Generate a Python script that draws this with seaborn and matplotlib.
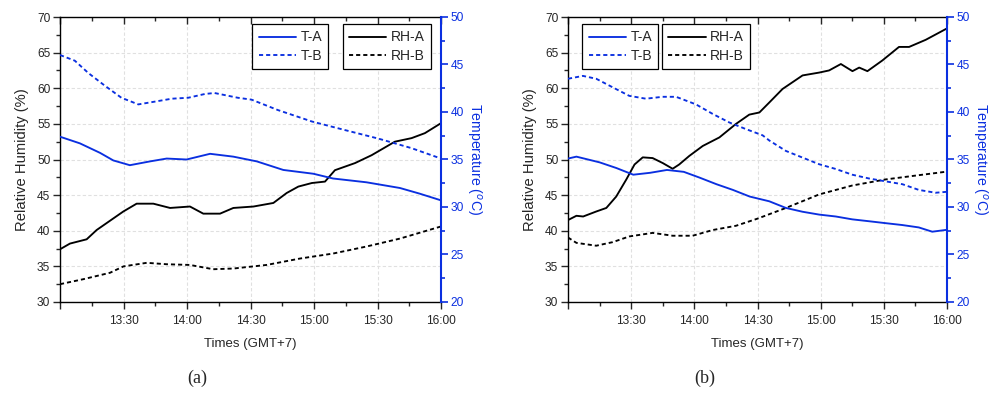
import numpy as np
import pandas as pd
import matplotlib
matplotlib.use("Agg")
import matplotlib.pyplot as plt
from matplotlib.lines import Line2D, TICKDOWN
from matplotlib.ticker import MultipleLocator
import seaborn as sns

# ---------------- data (minutes after 13:00) ----------------
time_ticks = [0, 30, 60, 90, 120, 150, 180]
time_labels = ["", "13:30", "14:00", "14:30", "15:00", "15:30", "16:00"]

# Panel (a)
a_TA_t = [0, 9.4, 18.9, 25.2, 33, 42.5, 50.4, 59.8, 70.9, 81.9, 93, 105.5, 119.7, 129, 144.8, 160.6, 170, 180]
a_TA_v = [37.4, 36.7, 35.7, 34.9, 34.4, 34.8, 35.1, 35.0, 35.6, 35.3, 34.8, 33.9, 33.5, 33.0, 32.6, 32.0, 31.4, 30.7]

a_TB_t = [0, 7, 13.4, 21, 29, 37, 45, 52.8, 60.6, 68.5, 73, 84, 90.5, 103, 119, 134.6, 150.4, 166, 180]
a_TB_v = [46.0, 45.4, 44.1, 42.8, 41.5, 40.8, 41.1, 41.4, 41.5, 41.9, 42.0, 41.5, 41.3, 40.2, 39.0, 38.1, 37.2, 36.2, 35.1]

a_RHA_t = [0, 4.7, 12.6, 17.3, 23.6, 29.9, 36.2, 44.1, 52, 61.4, 67.7, 75.6, 81.9, 91.4, 100.8, 107.1, 112.6, 119, 125.2, 129.9, 139.4, 147.2, 158.2, 166.1, 172.4, 180]
a_RHA_v = [37.4, 38.2, 38.8, 40.1, 41.4, 42.7, 43.8, 43.8, 43.2, 43.4, 42.4, 42.4, 43.2, 43.4, 43.9, 45.3, 46.2, 46.7, 46.9, 48.5, 49.5, 50.6, 52.5, 53.0, 53.7, 55.1]

a_RHB_t = [0, 11, 23.6, 30, 41, 50.4, 61.4, 72.4, 82, 97.6, 113.4, 129, 145, 160.6, 180]
a_RHB_v = [32.5, 33.2, 34.1, 35.0, 35.5, 35.3, 35.2, 34.6, 34.7, 35.2, 36.1, 36.8, 37.8, 38.9, 40.6]

# Panel (b)
b_TA_t = [0, 4, 15, 23, 31, 39, 47, 55, 62.4, 70.5, 78.3, 86.3, 95.6, 103.5, 111.4, 119.3, 127.2, 135, 143, 150.8, 158.8, 166.6, 173, 180]
b_TA_v = [35.1, 35.3, 34.7, 34.1, 33.4, 33.6, 33.9, 33.7, 33.1, 32.4, 31.8, 31.1, 30.6, 29.9, 29.5, 29.2, 29.0, 28.7, 28.5, 28.3, 28.1, 27.85, 27.4, 27.6]

b_TB_t = [0, 7.1, 13.4, 21.2, 29.1, 37, 44.9, 51.3, 60.8, 68.7, 76.6, 84.5, 92.4, 95.6, 103.5, 111.4, 119.3, 127.2, 135, 143, 150.8, 158.8, 166.6, 174.5, 180]
b_TB_v = [43.5, 43.8, 43.5, 42.6, 41.7, 41.4, 41.6, 41.6, 40.8, 39.8, 38.9, 38.2, 37.55, 37.0, 35.9, 35.2, 34.5, 34.0, 33.4, 33.0, 32.7, 32.4, 31.8, 31.5, 31.6]

b_RHA_t = [0, 4, 7.2, 13.4, 18.2, 22.9, 27.7, 31.6, 35.5, 40.2, 45, 49.7, 52.8, 57.6, 64, 71.9, 79.8, 86.1, 90.9, 95.6, 101.9, 111.4, 119.3, 124, 129.6, 135.1, 138.3, 142.2, 149.3, 157.2, 162, 169.9, 180]
b_RHA_v = [41.5, 42.1, 42.0, 42.7, 43.2, 44.8, 47.2, 49.3, 50.3, 50.2, 49.5, 48.7, 49.3, 50.5, 51.9, 53.1, 55.0, 56.3, 56.6, 58.0, 59.9, 61.8, 62.2, 62.5, 63.4, 62.4, 62.9, 62.4, 63.9, 65.8, 65.8, 66.8, 68.4]

b_RHB_t = [0, 4, 13.4, 21.2, 29.1, 40.2, 49.7, 59.2, 68.7, 79.8, 90, 103.5, 119.3, 135, 150.8, 166.6, 180]
b_RHB_v = [39.05, 38.3, 37.9, 38.4, 39.2, 39.7, 39.3, 39.3, 40.1, 40.7, 41.7, 43.2, 45.1, 46.35, 47.2, 47.8, 48.3]

panels = [
    dict(TA=(a_TA_t, a_TA_v), TB=(a_TB_t, a_TB_v), RHA=(a_RHA_t, a_RHA_v), RHB=(a_RHB_t, a_RHB_v),
         caption="(a)", cap_x=197/997, rect=[60/997, 91/393, 381/997, 285/393],
         leg1=(0.505, 0.975), leg2=(0.742, 0.975)),
    dict(TA=(b_TA_t, b_TA_v), TB=(b_TB_t, b_TB_v), RHA=(b_RHA_t, b_RHA_v), RHB=(b_RHB_t, b_RHB_v),
         caption="(b)", cap_x=705/997, rect=[568/997, 91/393, 379/997, 285/393],
         leg1=(0.038, 0.975), leg2=(0.248, 0.975)),
]

# ---------------- style ----------------
sns.set_theme(style="white")
plt.rcParams["font.family"] = ["Liberation Sans", "DejaVu Sans"]
plt.rcParams["font.size"] = 9.5

BLUE = "#0a2fe0"
BLACK = "#000000"
LW = 1.35
DASH = (0, (2.2, 1.6))
TICK_FS = 8.6

fig = plt.figure(figsize=(9.97, 3.93), dpi=100)

for p in panels:
    ax = fig.add_axes(p["rect"])
    ax2 = ax.twinx()

    df_rha = pd.DataFrame({"t": p["RHA"][0], "v": p["RHA"][1]})
    df_rhb = pd.DataFrame({"t": p["RHB"][0], "v": p["RHB"][1]})
    df_ta = pd.DataFrame({"t": p["TA"][0], "v": p["TA"][1]})
    df_tb = pd.DataFrame({"t": p["TB"][0], "v": p["TB"][1]})

    sns.lineplot(data=df_rha, x="t", y="v", ax=ax, color=BLACK, lw=LW, estimator=None, sort=False)
    sns.lineplot(data=df_rhb, x="t", y="v", ax=ax, color=BLACK, lw=LW, estimator=None, sort=False)
    ax.lines[-1].set_linestyle(DASH)
    sns.lineplot(data=df_ta, x="t", y="v", ax=ax2, color=BLUE, lw=LW, estimator=None, sort=False)
    sns.lineplot(data=df_tb, x="t", y="v", ax=ax2, color=BLUE, lw=LW, estimator=None, sort=False)
    ax2.lines[-1].set_linestyle(DASH)

    ax.set_xlim(0, 180)
    ax.set_ylim(30, 70)
    ax2.set_ylim(20, 50)

    ax.set_xticks(time_ticks)
    ax.set_xticklabels(time_labels)
    ax.xaxis.set_minor_locator(MultipleLocator(15))
    ax.yaxis.set_major_locator(MultipleLocator(5))
    ax.yaxis.set_minor_locator(MultipleLocator(2.5))
    ax2.yaxis.set_major_locator(MultipleLocator(5))
    ax2.yaxis.set_minor_locator(MultipleLocator(2.5))

    ax.grid(True, which="major", color="#e0e0e0", lw=0.8, ls=(0, (3, 2)))
    ax2.grid(False)

    ax.tick_params(axis="x", which="both", direction="out", bottom=True, top=True, labelsize=TICK_FS, pad=4)
    ax.tick_params(axis="x", which="major", length=5, width=1)
    ax.tick_params(axis="x", which="minor", length=3, width=1)
    ax.tick_params(axis="y", which="both", direction="out", left=True, labelsize=TICK_FS, pad=2)
    ax.tick_params(axis="y", which="major", length=5, width=1)
    ax.tick_params(axis="y", which="minor", length=3, width=1)
    ax2.tick_params(axis="y", which="both", direction="out", right=True, colors=BLUE, labelsize=TICK_FS, pad=2)
    ax2.tick_params(axis="y", which="major", length=5, width=1.2)
    ax2.tick_params(axis="y", which="minor", length=3, width=1.2)

    # top ticks point inward
    for t in ax.xaxis.get_major_ticks():
        t.tick2line.set_marker(TICKDOWN)
        t.tick2line.set_markersize(5)
    for t in ax.xaxis.get_minor_ticks():
        t.tick2line.set_marker(TICKDOWN)
        t.tick2line.set_markersize(3)

    for s in ["left", "bottom", "top"]:
        ax.spines[s].set_color(BLACK)
        ax.spines[s].set_linewidth(1)
    ax2.spines["right"].set_color(BLUE)
    ax2.spines["right"].set_linewidth(1.5)
    for s in ["left", "bottom", "top"]:
        ax2.spines[s].set_visible(False)
    ax.spines["right"].set_visible(False)

    ax.set_xlabel("Times (GMT+7)", fontsize=9.5, labelpad=8)
    ax.set_ylabel("Relative Humidity (%)", fontsize=10.6, labelpad=6)
    ax2.set_ylabel("Temperature ($^{o}$C)", fontsize=10.2, color=BLUE, rotation=270, labelpad=14)

    h1 = [Line2D([], [], color=BLUE, lw=LW), Line2D([], [], color=BLUE, lw=LW, ls=DASH)]
    h2 = [Line2D([], [], color=BLACK, lw=LW), Line2D([], [], color=BLACK, lw=LW, ls=DASH)]
    legkw = dict(loc="upper left", frameon=True, fancybox=False, edgecolor="black", framealpha=1,
                 fontsize=10, handlelength=2.7, handletextpad=0.3, labelspacing=0.3,
                 borderpad=0.45, borderaxespad=0)
    lg1 = ax2.legend(h1, ["T-A", "T-B"], bbox_to_anchor=p["leg1"], **legkw)
    lg1.get_frame().set_linewidth(0.9)
    ax2.add_artist(lg1)
    lg2 = ax2.legend(h2, ["RH-A", "RH-B"], bbox_to_anchor=p["leg2"], **legkw)
    lg2.get_frame().set_linewidth(0.9)

    fig.text(p["cap_x"], 1 - 378/393, p["caption"], ha="center", va="center",
             fontsize=13, family=["Liberation Serif", "DejaVu Serif"])

fig.savefig("out.png", dpi=100)
